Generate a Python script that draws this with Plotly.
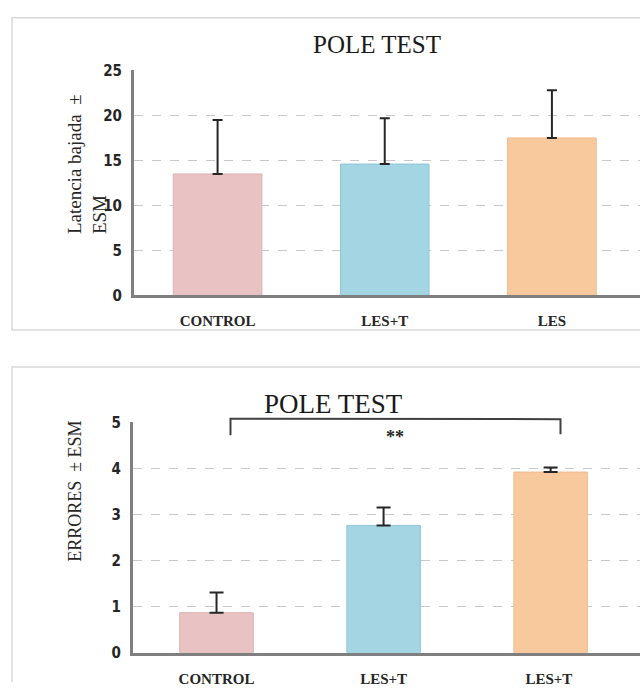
import plotly.graph_objects as go

# ---- data ----
categories_top = ["CONTROL", "LES+T", "LES"]
latency_mean = [13.5, 14.6, 17.5]
latency_sem = [6.0, 5.1, 5.3]

categories_bottom = ["CONTROL", "LES+T", "LES+T "]
errors_mean = [0.87, 2.77, 3.93]
errors_sem = [0.44, 0.39, 0.10]

bar_colors = ["#E9C3C3", "#A3D5E3", "#F9C99E"]
bar_lines = ["#DDB0B0", "#8FC5D6", "#F0B98A"]

W, H = 640, 691
def px(x):
    return x / W
def py(y):
    return 1 - y / H

SERIF = "Liberation Serif, Times New Roman, serif"

fig = go.Figure()

fig.add_trace(go.Bar(
    x=categories_top, y=latency_mean, width=0.53,
    marker=dict(color=bar_colors, line=dict(color=bar_lines, width=1)),
    error_y=dict(type="data", array=latency_sem, arrayminus=[0, 0, 0], symmetric=False,
                 color="#262626", thickness=2, width=5),
    xaxis="x", yaxis="y", showlegend=False, hoverinfo="skip",
))
fig.add_trace(go.Bar(
    x=categories_bottom, y=errors_mean, width=0.44,
    marker=dict(color=bar_colors, line=dict(color=bar_lines, width=1)),
    error_y=dict(type="data", array=errors_sem, arrayminus=[0, 0, 0], symmetric=False,
                 color="#262626", thickness=2, width=7),
    xaxis="x2", yaxis="y2", showlegend=False, hoverinfo="skip",
))

axis_common = dict(
    showline=True, linecolor="#7F7F7F", linewidth=3, ticks="",
    zeroline=False,
)

fig.update_layout(
    width=W, height=H, margin=dict(l=0, r=0, t=0, b=0),
    paper_bgcolor="white", plot_bgcolor="white",
    xaxis=dict(domain=[px(134), 1.0], range=[-0.5, 2.527], anchor="y",
               showgrid=False, **axis_common),
    yaxis=dict(domain=[py(294.7), py(63.1)], range=[0, 25.1], tickvals=[0, 5, 10, 15, 20, 25],
               anchor="x",
               showgrid=True, gridcolor="#C8C8C8", griddash="dash", gridwidth=1,
               ticklabelstandoff=6, **axis_common),
    xaxis2=dict(domain=[px(133), 1.0], range=[-0.5, 2.535], anchor="y2",
                showgrid=False, **axis_common),
    yaxis2=dict(domain=[py(661), py(424.4)], range=[0, 5.02], tickvals=[0, 1, 2, 3, 4, 5],
                anchor="x2",
                showgrid=True, gridcolor="#C8C8C8", griddash="dash", gridwidth=1,
                ticklabelstandoff=6, **axis_common),
    bargap=0.4,
)
fig.update_xaxes(tickfont=dict(family=SERIF, size=15, color="#262626", weight="bold"),
                 ticklabelstandoff=10)
fig.update_yaxes(tickfont=dict(family="DejaVu Sans Condensed, sans-serif", size=15,
                               color="#262626", weight="bold"))

frame = dict(color="#D9D9D9", width=1.5)
shapes = [
    # chart frames (open on sides cut by the image edge)
    dict(type="path", xref="paper", yref="paper",
         path=f"M 1 {py(10)} L {px(12)} {py(10)} L {px(12)} {py(330)} L 1 {py(330)}",
         line=frame, layer="below"),
    dict(type="path", xref="paper", yref="paper",
         path=f"M 1 {py(368)} L {px(12)} {py(368)} L {px(12)} 0",
         line=frame, layer="below"),
    # significance bracket
    dict(type="path", xref="paper", yref="paper",
         path=f"M {px(230.5)} {py(438)} L {px(230.5)} {py(421)} L {px(560.5)} {py(421.5)} L {px(560.5)} {py(437)}",
         line=dict(color="#404040", width=2)),
]
fig.update_layout(shapes=shapes)

annotations = [
    dict(text="POLE TEST", x=px(377), y=py(37), xref="paper", yref="paper", showarrow=False,
         font=dict(family=SERIF, size=25, color="#1a1a1a"), xanchor="center", yanchor="middle"),
    dict(text="POLE TEST", x=px(333), y=py(406), xref="paper", yref="paper", showarrow=False,
         font=dict(family=SERIF, size=27, color="#1a1a1a"), xanchor="center", yanchor="middle"),
    dict(text="Latencia bajada  ±<br>ESM", x=px(87), y=py(160), xref="paper", yref="paper",
         showarrow=False, textangle=-90, align="left",
         font=dict(family=SERIF, size=19, color="#262626"),
         xanchor="center", yanchor="middle"),
    dict(text="ERRORES  ± ESM", x=px(75), y=py(496), xref="paper", yref="paper",
         showarrow=False, textangle=-90,
         font=dict(family=SERIF, size=18, color="#262626"),
         xanchor="center", yanchor="middle"),
    dict(text="**", x=px(395), y=py(440), xref="paper", yref="paper", showarrow=False,
         font=dict(family=SERIF, size=18, color="#262626", weight="bold"),
         xanchor="center", yanchor="middle"),
]
fig.update_layout(annotations=annotations)

fig.write_html(
    "out.html",
    config={"displayModeBar": False, "staticPlot": True},
    post_script=(
        "document.documentElement.style.margin='0';"
        "document.body.style.margin='0';"
        "document.body.style.padding='0';"
        "document.body.style.overflow='hidden';"
    ),
)
